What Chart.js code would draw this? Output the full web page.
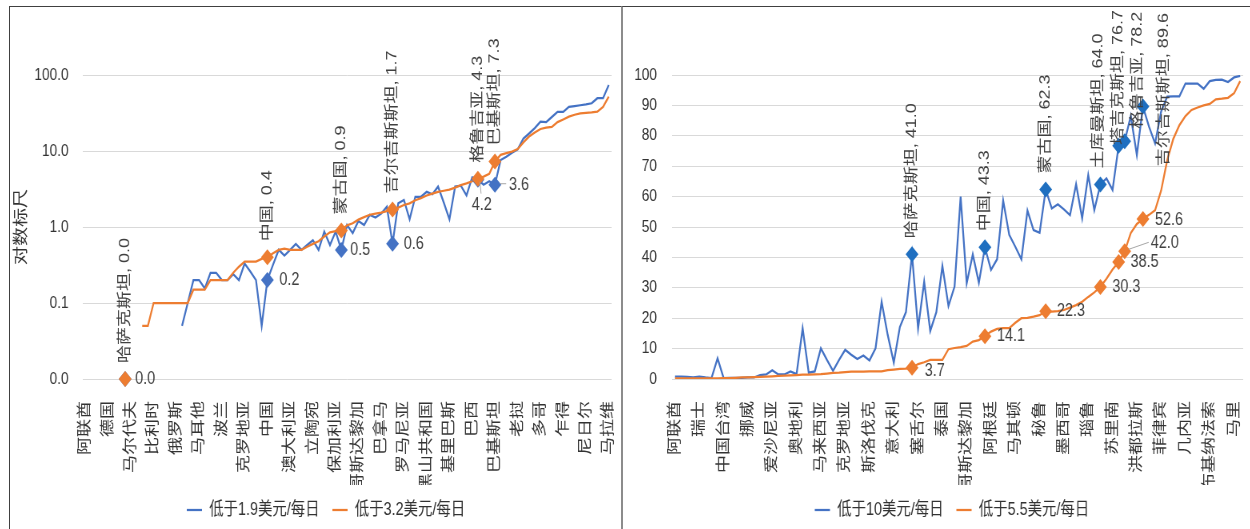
<!DOCTYPE html>
<html lang="zh">
<head>
<meta charset="utf-8">
<title>贫困率对比</title>
<script src="https://cdn.jsdelivr.net/npm/chart.js@4.4.1/dist/chart.umd.min.js"></script>
<style>
  html, body { margin: 0; padding: 0; background: #fff; }
  body { width: 1250px; height: 529px; position: relative; overflow: hidden; }
  .panel { position: absolute; top: 6px; height: 540px; border-top: 1.5px solid #404040; border-left: 1.5px solid #404040; }
  #leftPanel { left: 9px; width: 620px; }
  #rightPanel { left: 621px; width: 640px; border-left: 2px solid #8c8c8c; }
  /* the source picture is squeezed horizontally, so the charts are drawn wider and scaled down */
  canvas { position: absolute; top: 8px; transform: scaleX(0.8); transform-origin: 0 0; }
  #leftChart { left: 10px; }
  #rightChart { left: 624px; }
</style>
</head>
<body>
<div class="panel" id="leftPanel"></div>
<div class="panel" id="rightPanel"></div>
<canvas id="leftChart" width="762" height="521"></canvas>
<canvas id="rightChart" width="782" height="521"></canvas>

<script>
// ---- left chart data (log scale, % of population) ----
const leftTickLabels = ['阿联酋', '德国', '马尔代夫', '比利时', '俄罗斯', '马耳他', '波兰', '克罗地亚',
    '中国', '澳大利亚', '立陶宛', '保加利亚', '哥斯达黎加', '巴拿马', '罗马尼亚', '黑山共和国',
    '基里巴斯', '巴西', '巴基斯坦', '老挝', '多哥', '乍得', '尼日尔', '马拉维'];

const leftBelow19 = [
    null, null, null, null, null, null, null, null, null, null,
    null, null, null, null, null, null, null, 0.05, 0.1, 0.2,
    0.2, 0.155, 0.25, 0.25, 0.2, 0.2, 0.24, 0.2, 0.33, 0.26,
    0.2, 0.05, 0.2, 0.32, 0.5, 0.42, 0.5, 0.6, 0.5, 0.58,
    0.67, 0.5, 0.87, 0.58, 0.87, 0.5, 1.06, 0.83, 1.2, 1.06,
    1.44, 1.33, 1.5, 1.85, 0.6, 2.05, 2.27, 1.26, 2.5, 2.5,
    2.9, 2.7, 3.4, 2.1, 1.26, 3.4, 3.5, 2.6, 4.5, 4.2,
    3.6, 4.0, 3.6, 7.6, 8.4, 9.5, 10.5, 14.6, 17, 20,
    24.3, 24, 28, 32.7, 32.7, 38, 39, 40, 41, 42.5,
    49.5, 49.5, 73.7
];

const leftBelow32 = [
    null, null, null, null, null, null, null, null, null, null,
    0.05, 0.05, 0.1, 0.1, 0.1, 0.1, 0.1, 0.1, 0.1, 0.15,
    0.15, 0.15, 0.2, 0.2, 0.2, 0.2, 0.25, 0.3, 0.35, 0.35,
    0.35, 0.38, 0.4, 0.45, 0.5, 0.52, 0.5, 0.5, 0.5, 0.55,
    0.6, 0.65, 0.75, 0.85, 0.88, 0.9, 1.05, 1.12, 1.25, 1.35,
    1.45, 1.5, 1.55, 1.62, 1.7, 1.8, 1.95, 2.05, 2.25, 2.4,
    2.6, 2.75, 2.9, 3.0, 3.1, 3.3, 3.55, 3.75, 4.0, 4.3,
    4.6, 5.0, 7.3, 8.9, 9.4, 9.8, 10.6, 13, 15.5, 17.5,
    19.5, 20.3, 20.8, 24, 26, 28.3, 30, 31.3, 31.8, 32.3,
    33, 38, 52
];

const leftMarkIdx = [7, 32, 45, 54, 69, 72];
const leftMarkNames = ['哈萨克斯坦', '中国', '蒙古国', '吉尔吉斯斯坦', '格鲁吉亚', '巴基斯坦'];
const leftMark19 = [0.01, 0.2, 0.5, 0.6, 4.2, 3.6];
const leftMark32 = [0.01, 0.4, 0.9, 1.7, 4.3, 7.3];
const leftYTicks = [0.01, 0.1, 1, 10, 100];

// ---- right chart data (linear, % of population) ----
const rightTickLabels = ['阿联酋', '瑞士', '中国台湾', '挪威', '爱沙尼亚', '奥地利', '马来西亚', '克罗地亚',
    '斯洛伐克', '意大利', '塞舌尔', '泰国', '哥斯达黎加', '阿根廷', '马其顿', '秘鲁',
    '墨西哥', '瑙鲁', '苏里南', '洪都拉斯', '菲律宾', '几内亚', '布基纳法索', '马里'];

const rightBelow10 = [
    0.8, 0.8, 0.7, 0.5, 0.8, 0.5, 0.3, 6.8, 0.3, 0.4,
    0.4, 0.4, 0.5, 0.5, 1.3, 1.5, 2.9, 1.5, 1.5, 2.5,
    1.6, 16.7, 2.1, 2.5, 10.1, 6.3, 2.7, 6.3, 9.6, 8.0,
    6.6, 7.7, 6.1, 10.1, 25.4, 14.5, 5.4, 17.1, 22.0, 41.0,
    16.6, 32.0, 15.8, 22.0, 37.2, 24, 30.4, 60, 31.5, 41,
    31.7, 43.3, 35.9, 39.4, 58.7, 47.4, 43.5, 39.4, 55.4, 49,
    48.1, 62.3, 56.1, 57.5, 55.8, 53.9, 64.1, 52.9, 67.1, 55.6,
    64.0, 66, 62.2, 76.7, 78.2, 86.5, 73.7, 89.6, 83, 77.5,
    88, 92.9, 93, 93, 97.2, 97.2, 97.2, 95.5, 98, 98.4,
    98.5, 97.7, 99.2, 99.7
];

const rightBelow55 = [
    0.2, 0.2, 0.2, 0.2, 0.2, 0.2, 0.2, 0.2, 0.3, 0.3,
    0.4, 0.5, 0.5, 0.6, 0.7, 0.8, 0.9, 1.0, 1.1, 1.2,
    1.3, 1.4, 1.4, 1.5, 1.6, 1.8, 2.0, 2.1, 2.3, 2.4,
    2.4, 2.4, 2.5, 2.5, 2.5, 2.9, 3.1, 3.3, 3.4, 3.7,
    4.9, 5.5, 6.3, 6.3, 6.3, 9.8, 10.2, 10.5, 10.9, 12.3,
    12.8, 14.1, 15.6, 16.5, 16.7, 16.7, 18.5, 20, 20.1, 20.5,
    21, 22.3, 22.2, 22.3, 22.7, 23.5, 24.3, 25.4, 27, 28.5,
    30.3, 33, 36, 38.5, 42.0, 48, 51, 52.6, 54, 55.5,
    62, 72, 79, 83.5, 86.5, 88.5, 89.3, 90, 90.5, 92,
    92.2, 92.5, 94, 98
];

const rightMarkIdx = [39, 51, 61, 70, 73, 74, 77];
const rightMarkNames = ['哈萨克斯坦', '中国', '蒙古国', '土库曼斯坦', '塔吉克斯坦', '格鲁吉亚', '吉尔吉斯斯坦'];
const rightMark10 = [41.0, 43.3, 62.3, 64.0, 76.7, 78.2, 89.6];
const rightMark55 = [3.7, 14.1, 22.3, 30.3, 38.5, 42.0, 52.6];

const BLUE = '#4472c4';
const BLUE_MARK = '#1f6fc0';
const ORANGE = '#ed7d31';
const TEXT = '#333333';
const GRID = '#d9d9d9';
const FONT = '"Liberation Sans", "Noto Sans CJK SC", sans-serif';

Chart.defaults.font.family = FONT;
Chart.defaults.color = TEXT;

function buildCategories(tickLabels, count, markIdx, markNames) {
    const cats = Array.from({ length: count }, (_, i) => (i % 4 === 0 ? tickLabels[i / 4] : ''));
    markIdx.forEach((idx, k) => { if (!cats[idx]) cats[idx] = markNames[k]; });
    return cats;
}

function markerSeries(markIdx, values, count) {
    const data = Array(count).fill(null);
    markIdx.forEach((idx, k) => { data[idx] = values[k]; });
    return data;
}

function fmt(v) {
    return v.toFixed(1);
}

// Draws the country / value labels next to the diamond markers
const pointLabels = {
    id: 'pointLabels',
    afterDatasetsDraw(chart, args, opts) {
        const ctx = chart.ctx;
        ctx.save();
        ctx.font = '18px ' + FONT;
        ctx.fillStyle = '#404040';
        ctx.textBaseline = 'middle';
        opts.items.forEach(item => {
            const el = chart.getDatasetMeta(item.dataset).data[item.index];
            if (!el) return;
            const p = item.place || {};
            if (p.leader) {
                ctx.strokeStyle = '#a6a6a6';
                ctx.lineWidth = 1;
                ctx.beginPath();
                ctx.moveTo(el.x + p.leader[0], el.y + p.leader[1]);
                ctx.lineTo(el.x + p.leader[2], el.y + p.leader[3]);
                ctx.stroke();
            }
            if (item.kind === 'up') {
                const w = ctx.measureText(item.text).width;
                let bottom = p.cy !== undefined ? el.y + p.cy + w / 2 : el.y - 16;
                if (bottom - w < 2) bottom = 2 + w;
                ctx.save();
                ctx.translate(el.x + (p.dx || 0), bottom);
                ctx.rotate(-Math.PI / 2);
                ctx.textAlign = 'left';
                ctx.fillText(item.text, 0, 0);
                ctx.restore();
            } else {
                ctx.textAlign = p.align || 'left';
                ctx.fillText(item.text, el.x + (p.dx !== undefined ? p.dx : 14), el.y + (p.dy || 0));
            }
        });
        ctx.restore();
    }
};

// moves the legend sideways so it sits where the original one is
const legendShift = {
    id: 'legendShift',
    afterLayout(chart, args, opts) {
        chart.legend.left += opts.dx;
        chart.legend.right += opts.dx;
    }
};

function makeChart(canvasId, cfg) {
    const count = cfg.lineA.length;
    const categories = buildCategories(cfg.tickLabels, count, cfg.markIdx, cfg.markNames);
    const items = [];
    cfg.markIdx.forEach((idx, k) => {
        items.push({ dataset: cfg.upDataset, index: idx, kind: 'up',
            text: cfg.markNames[k] + ', ' + fmt(cfg.upValues[k]), place: cfg.upPlace[k] });
        items.push({ dataset: cfg.sideDataset, index: idx, kind: 'side',
            text: fmt(cfg.sideValues[k]), place: cfg.sidePlace[k] });
    });

    return new Chart(document.getElementById(canvasId), {
        type: 'line',
        data: {
            labels: categories,
            datasets: [
                { label: cfg.nameA, data: cfg.lineA, borderColor: BLUE, backgroundColor: BLUE,
                  borderWidth: 2.25, pointRadius: 0, tension: 0, order: 3 },
                { label: cfg.nameB, data: cfg.lineB, borderColor: ORANGE, backgroundColor: ORANGE,
                  borderWidth: 2.25, pointRadius: 0, tension: 0, order: 2 },
                { label: 'markA', data: markerSeries(cfg.markIdx, cfg.markA, count), showLine: false,
                  pointStyle: 'rectRot', pointRadius: 8, pointBorderWidth: 0,
                  pointBackgroundColor: cfg.markColorA, borderColor: cfg.markColorA, clip: false, order: 1 },
                { label: 'markB', data: markerSeries(cfg.markIdx, cfg.markB, count), showLine: false,
                  pointStyle: 'rectRot', pointRadius: 8, pointBorderWidth: 0,
                  pointBackgroundColor: ORANGE, borderColor: ORANGE, clip: false, order: 0 }
            ]
        },
        options: {
            responsive: false,
            animation: false,
            layout: { padding: { top: 67, left: 0, right: cfg.padRight, bottom: 0 } },
            scales: {
                x: {
                    offset: true,
                    grid: { display: false },
                    border: { display: false },
                    ticks: {
                        autoSkip: false, minRotation: 90, maxRotation: 90, padding: 14,
                        font: { size: 18 }, color: TEXT,
                        callback: (v, i) => (i % 4 === 0 ? categories[i] : '')
                    },
                    afterFit: scale => {
                        scale.height = 106;
                        scale.paddingLeft = 0;
                        scale.paddingRight = 0;
                    }
                },
                y: cfg.yScale
            },
            plugins: {
                legend: {
                    position: 'bottom',
                    labels: {
                        usePointStyle: true, pointStyle: 'line', pointStyleWidth: 19,
                        padding: 16, color: TEXT, font: { size: 18 },
                        filter: item => item.datasetIndex < 2,
                        sort: (a, b) => a.datasetIndex - b.datasetIndex
                    }
                },
                tooltip: { enabled: false },
                pointLabels: { items },
                legendShift: { dx: cfg.legendDx }
            }
        },
        plugins: [pointLabels, legendShift]
    });
}

makeChart('leftChart', {
    tickLabels: leftTickLabels,
    lineA: leftBelow19, lineB: leftBelow32,
    nameA: '低于1.9美元/每日', nameB: '低于3.2美元/每日',
    markIdx: leftMarkIdx, markNames: leftMarkNames,
    markA: leftMark19, markB: leftMark32, markColorA: BLUE,
    upDataset: 3, upValues: leftMark32,
    upPlace: [{}, {}, {}, {}, {}, {}],
    sideDataset: 2, sideValues: leftMark19,
    sidePlace: [{ dx: 12.5 }, { dx: 15 }, { dx: 11 }, { dx: 14 },
                { dx: 5, dy: 25, align: 'center', leader: [2.5, 2, 4, 14] },
                { dx: 17.5, leader: [6, -1, 14, -1] }],
    padRight: 10, legendDx: 19,
    yScale: {
        type: 'logarithmic',
        min: 0.01, max: 100,
        afterBuildTicks: scale => { scale.ticks = leftYTicks.map(v => ({ value: v })); },
        ticks: { autoSkip: false, padding: 17.5, font: { size: 17 }, color: TEXT,
                 callback: v => Number(v).toFixed(1) },
        grid: { color: GRID, drawTicks: false },
        border: { display: false },
        title: { display: true, text: '对数标尺', font: { size: 19 }, color: TEXT,
                 padding: { top: 3, bottom: 0 } },
        afterFit: scale => { scale.width = 90.6; }
    }
});

makeChart('rightChart', {
    tickLabels: rightTickLabels,
    lineA: rightBelow10, lineB: rightBelow55,
    nameA: '低于10美元/每日', nameB: '低于5.5美元/每日',
    markIdx: rightMarkIdx, markNames: rightMarkNames,
    markA: rightMark10, markB: rightMark55, markColorA: BLUE_MARK,
    upDataset: 2, upValues: rightMark10,
    upPlace: [{}, {}, {}, { dx: -2.5 }, {}, { dx: 16, cy: -71 }, { dx: 26, cy: -17 }],
    sideDataset: 3, sideValues: rightMark55,
    sidePlace: [{ dx: 16, dy: 3 }, { dx: 15 }, { dx: 14 }, { dx: 15 }, { dx: 15 },
                { dx: 32.5, dy: -8, leader: [5, -2, 30, -9] }, { dx: 15, dy: 1 }],
    padRight: 8, legendDx: 23,
    yScale: {
        min: 0, max: 100,
        ticks: { stepSize: 10, padding: 18.75, font: { size: 17 }, color: TEXT },
        grid: { color: GRID, drawTicks: false },
        border: { display: false },
        afterFit: scale => { scale.width = 60; }
    }
});
</script>
</body>
</html>
